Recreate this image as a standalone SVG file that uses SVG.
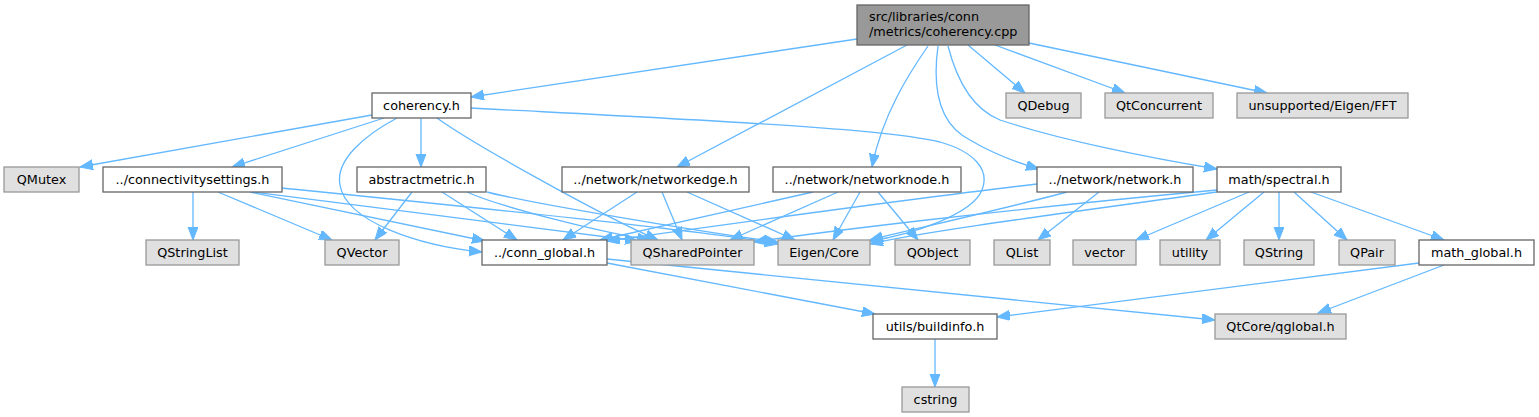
<svg xmlns="http://www.w3.org/2000/svg" width="1539" height="417" viewBox="0 0 1539 417">
<style>
text{font-family:"DejaVu Sans","Liberation Sans",sans-serif;font-size:12.8px;fill:#000;text-anchor:middle}
.w rect{fill:#fff;stroke:#666;stroke-width:1.3}
.g rect{fill:#e0e0e0;stroke:#999;stroke-width:1.3}
.r rect{fill:#999;stroke:#666;stroke-width:1.3}
#edges path{fill:none;stroke:#63b8ff;stroke-width:1.3;marker-end:url(#a)}
</style>
<defs>
<marker id="a" markerUnits="userSpaceOnUse" markerWidth="14" markerHeight="12" refX="13" refY="5" orient="auto"><path d="M0,0 L13,5 L0,10 z" fill="#63b8ff" stroke="#63b8ff" stroke-width="1"/></marker>
</defs>
<rect width="1539" height="417" fill="#fff"/>
<g id="edges">
<path d="M857,39 L471,97"/>
<path d="M907,45 L677,167"/>
<path d="M928,46 C910,72 882,115 872,167"/>
<path d="M938,46 C932,90 940,125 970,140 C990,152 1015,162 1039,169"/>
<path d="M948,46 C958,85 975,110 1000,120 C1060,140 1150,158 1217,169"/>
<path d="M968,45 L1025,93"/>
<path d="M995,45 L1125,93"/>
<path d="M1029,43 L1267,93"/>
<path d="M372,115 L80,167"/>
<path d="M384,118 L232,167"/>
<path d="M397,118 C365,135 335,160 340,185 C346,222 420,246 482,252"/>
<path d="M421,118 L421,167"/>
<path d="M437,118 C470,142 600,215 658,240"/>
<path d="M471,108 C700,120 880,128 940,142 C975,152 990,170 982,190 C972,215 910,235 870,241"/>
<path d="M412,192 L375,240"/>
<path d="M442,192 L517,240"/>
<path d="M467,192 C500,207 600,232 650,240"/>
<path d="M487,192 C520,201 700,232 778,242"/>
<path d="M193,192 L193,240"/>
<path d="M218,192 L332,240"/>
<path d="M250,192 L485,241"/>
<path d="M253,192 C350,205 560,230 638,241"/>
<path d="M282,188 C450,205 700,230 778,244"/>
<path d="M637,192 L563,240"/>
<path d="M662,192 L682,240"/>
<path d="M687,192 L795,240"/>
<path d="M813,192 L600,240"/>
<path d="M838,192 L730,240"/>
<path d="M860,192 L833,240"/>
<path d="M878,192 L918,240"/>
<path d="M1099,192 L1038,240"/>
<path d="M1037,184 C900,200 700,228 607,241"/>
<path d="M1067,192 C1000,210 900,232 870,240"/>
<path d="M1217,190 C1000,210 820,232 754,242"/>
<path d="M1217,192 C1050,215 920,232 870,244"/>
<path d="M1249,192 L1136,240"/>
<path d="M1264,192 L1206,240"/>
<path d="M1279,192 L1279,240"/>
<path d="M1294,192 L1347,240"/>
<path d="M1311,192 L1444,240"/>
<path d="M607,263 L875,314"/>
<path d="M607,259 L1215,320"/>
<path d="M1419,263 L997,317"/>
<path d="M1444,265 L1318,313"/>
<path d="M935,339 L935,387"/>
</g>
<g id="root" class="r"><rect x="857" y="5" width="172" height="40"/><text x="869" y="21" style="text-anchor:start">src/libraries/conn</text><text x="869" y="36" style="text-anchor:start">/metrics/coherency.cpp</text></g>
<g id="coherency_h" class="w"><rect x="372" y="93" width="99" height="25"/><text x="421.5" y="110">coherency.h</text></g>
<g id="QDebug" class="g"><rect x="1006" y="93" width="75" height="25"/><text x="1043.5" y="110">QDebug</text></g>
<g id="QtConcurrent" class="g"><rect x="1105" y="93" width="108" height="25"/><text x="1159" y="110">QtConcurrent</text></g>
<g id="FFT" class="g"><rect x="1237" y="93" width="171" height="25"/><text x="1322.5" y="110">unsupported/Eigen/FFT</text></g>
<g id="QMutex" class="g"><rect x="4" y="167" width="75" height="25"/><text x="41.5" y="184">QMutex</text></g>
<g id="connectivitysettings" class="w"><rect x="103" y="167" width="179" height="25"/><text x="192.5" y="184">../connectivitysettings.h</text></g>
<g id="abstractmetric" class="w"><rect x="357" y="167" width="129" height="25"/><text x="421.5" y="184">abstractmetric.h</text></g>
<g id="networkedge" class="w"><rect x="562" y="167" width="187" height="25"/><text x="655.5" y="184">../network/networkedge.h</text></g>
<g id="networknode" class="w"><rect x="773" y="167" width="188" height="25"/><text x="867" y="184">../network/networknode.h</text></g>
<g id="network" class="w"><rect x="1037" y="167" width="156" height="25"/><text x="1115" y="184">../network/network.h</text></g>
<g id="spectral" class="w"><rect x="1217" y="167" width="124" height="25"/><text x="1279" y="184">math/spectral.h</text></g>
<g id="QStringList" class="g"><rect x="146" y="240" width="93" height="25"/><text x="192.5" y="257">QStringList</text></g>
<g id="QVector" class="g"><rect x="325" y="240" width="74" height="25"/><text x="362" y="257">QVector</text></g>
<g id="conn_global" class="w"><rect x="482" y="240" width="125" height="25"/><text x="544.5" y="257">../conn_global.h</text></g>
<g id="QSharedPointer" class="g"><rect x="631" y="240" width="123" height="25"/><text x="692.5" y="257">QSharedPointer</text></g>
<g id="EigenCore" class="g"><rect x="778" y="240" width="92" height="25"/><text x="824" y="257">Eigen/Core</text></g>
<g id="QObject" class="g"><rect x="895" y="240" width="75" height="25"/><text x="932.5" y="257">QObject</text></g>
<g id="QList" class="g"><rect x="994" y="240" width="56" height="25"/><text x="1022" y="257">QList</text></g>
<g id="vector" class="g"><rect x="1073" y="240" width="63" height="25"/><text x="1104.5" y="257">vector</text></g>
<g id="utility" class="g"><rect x="1160" y="240" width="60" height="25"/><text x="1190" y="257">utility</text></g>
<g id="QString" class="g"><rect x="1244" y="240" width="70" height="25"/><text x="1279" y="257">QString</text></g>
<g id="QPair" class="g"><rect x="1339" y="240" width="56" height="25"/><text x="1367" y="257">QPair</text></g>
<g id="math_global" class="w"><rect x="1419" y="240" width="115" height="25"/><text x="1476.5" y="257">math_global.h</text></g>
<g id="buildinfo" class="w"><rect x="873" y="314" width="124" height="25"/><text x="935" y="331">utils/buildinfo.h</text></g>
<g id="qglobal" class="g"><rect x="1215" y="314" width="131" height="25"/><text x="1280.5" y="331">QtCore/qglobal.h</text></g>
<g id="cstring" class="g"><rect x="902" y="387" width="67" height="25"/><text x="935.5" y="404">cstring</text></g>
</svg>
